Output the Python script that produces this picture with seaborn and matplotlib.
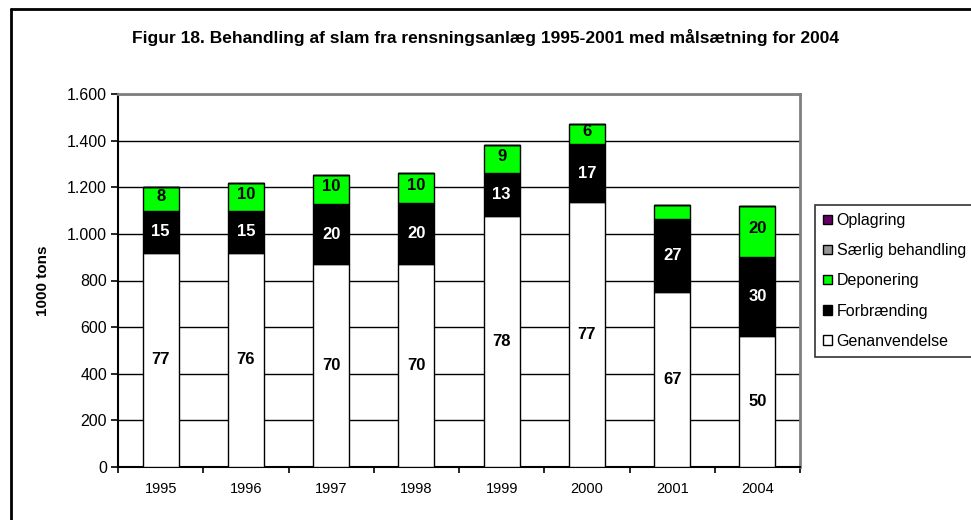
import pandas as pd
import matplotlib
matplotlib.use("Agg")
import matplotlib.pyplot as plt
import seaborn as sns
from matplotlib.patches import Patch
from matplotlib.lines import Line2D
from matplotlib.ticker import FuncFormatter, MultipleLocator, FixedLocator

# --------------------------------------------------
# Data (1000 tons) and shown percentage labels
# --------------------------------------------------

years = ["1995", "1996", "1997", "1998", "1999", "2000", "2001", "2004"]

genanvendelse = [920, 920, 870, 870, 1077, 1135, 750, 560]
forbraending = [178, 178, 258, 262, 185, 250, 313, 340]
deponering = [102, 120, 124, 130, 120, 85, 60, 220]
saerlig = [0, 0, 0, 0, 0, 0, 0, 0]
oplagring = [0, 0, 0, 0, 0, 0, 0, 0]

pct_gen = [77, 76, 70, 70, 78, 77, 67, 50]
pct_forb = [15, 15, 20, 20, 13, 17, 27, 30]
pct_dep = [8, 10, 10, 10, 9, 6, None, 20]

series_names = ["Genanvendelse", "Forbrænding", "Deponering",
                "Særlig behandling", "Oplagring"]
series_colors = ["#FFFFFF", "#000000", "#00FF00", "#969696", "#660066"]

df = pd.DataFrame({
    "year": years,
    "Genanvendelse": genanvendelse,
    "Forbrænding": forbraending,
    "Deponering": deponering,
    "Særlig behandling": saerlig,
    "Oplagring": oplagring,
})

sns.set_style("white")
plt.rcParams["font.family"] = ["Liberation Sans", "DejaVu Sans"]
plt.rcParams["text.color"] = "black"
plt.rcParams["axes.labelcolor"] = "black"
plt.rcParams["xtick.color"] = "black"
plt.rcParams["ytick.color"] = "black"

fig = plt.figure(figsize=(9.71, 5.2), dpi=100)
ax = fig.add_axes([118 / 971, 53 / 520, 682 / 971, 373 / 520])

# --------------------------------------------------
# Stacked bars
# --------------------------------------------------

bottom = [0] * len(years)
for name, color in zip(series_names, series_colors):
    sns.barplot(
        data=df, x="year", y=name, ax=ax,
        color=color, edgecolor="black", linewidth=1.0,
        width=0.42, bottom=bottom, saturation=1, zorder=3,
    )
    bottom = [b + v for b, v in zip(bottom, df[name])]

# --------------------------------------------------
# Labels
# --------------------------------------------------

for i in range(len(years)):
    g = genanvendelse[i]
    f = forbraending[i]
    d = deponering[i]
    ax.text(i, g / 2, str(pct_gen[i]), ha="center", va="center",
            fontsize=12, fontweight="bold", color="black", zorder=5)
    ax.text(i, g + f / 2, str(pct_forb[i]), ha="center", va="center",
            fontsize=12, fontweight="bold", color="white", zorder=5)
    if pct_dep[i] is not None:
        ax.text(i, g + f + d / 2 + 12, str(pct_dep[i]), ha="center",
                va="center", fontsize=12, fontweight="bold",
                color="black", zorder=5)

# --------------------------------------------------
# Axes styling
# --------------------------------------------------

ax.set_xlim(-0.5, len(years) - 0.5)
ax.set_ylim(0, 1600)
ax.yaxis.set_major_locator(MultipleLocator(200))
ax.yaxis.set_major_formatter(
    FuncFormatter(lambda v, p: f"{int(v):,}".replace(",", "."))
)
ax.grid(axis="y", color="black", linewidth=1.0, zorder=0)
ax.set_axisbelow(True)

ax.xaxis.set_minor_locator(FixedLocator(
    [i - 0.5 for i in range(len(years) + 1)]))
ax.tick_params(axis="x", which="major", length=0, pad=11, labelsize=10.5)
ax.tick_params(axis="x", which="minor", length=4, width=1.2,
               direction="out", color="black", bottom=True)
ax.tick_params(axis="y", length=5, width=1.2, direction="out",
               color="black", left=True, labelsize=11.5, pad=3)

ax.set_xlabel("")
ax.set_ylabel("1000 tons", fontsize=11, fontweight="bold", labelpad=12)

for side in ["left", "bottom"]:
    ax.spines[side].set_color("black")
    ax.spines[side].set_linewidth(1.5)
for side in ["top", "right"]:
    ax.spines[side].set_visible(True)
    ax.spines[side].set_color("#808080")
    ax.spines[side].set_linewidth(2.0)

# --------------------------------------------------
# Title, legend, frame
# --------------------------------------------------

fig.text(0.5, 1 - 37 / 520, "Figur 18. Behandling af slam fra "
         "rensningsanlæg 1995-2001 med målsætning for 2004",
         ha="center", va="center", fontsize=12.5, fontweight="bold",
         color="black")

handles = [Patch(facecolor=c, edgecolor="black", linewidth=1.0, label=n)
           for n, c in zip(series_names, series_colors)][::-1]
leg = fig.legend(
    handles=handles, loc="upper left",
    bbox_to_anchor=(815 / 971, 1 - 205 / 520),
    frameon=True, fancybox=False, fontsize=11.5,
    handlelength=0.55, handleheight=0.55, handletextpad=0.3,
    labelspacing=0.95, borderpad=0.5, borderaxespad=0,
)
leg.get_frame().set_edgecolor("black")
leg.get_frame().set_linewidth(1.2)
for t in leg.get_texts():
    t.set_color("black")

fig.add_artist(Line2D([11 / 971, 11 / 971], [0, 1 - 9 / 520],
                      transform=fig.transFigure, color="black", lw=2))
fig.add_artist(Line2D([11 / 971, 1], [1 - 9 / 520, 1 - 9 / 520],
                      transform=fig.transFigure, color="black", lw=2))

fig.savefig("out.png", dpi=100)
plt.close(fig)
